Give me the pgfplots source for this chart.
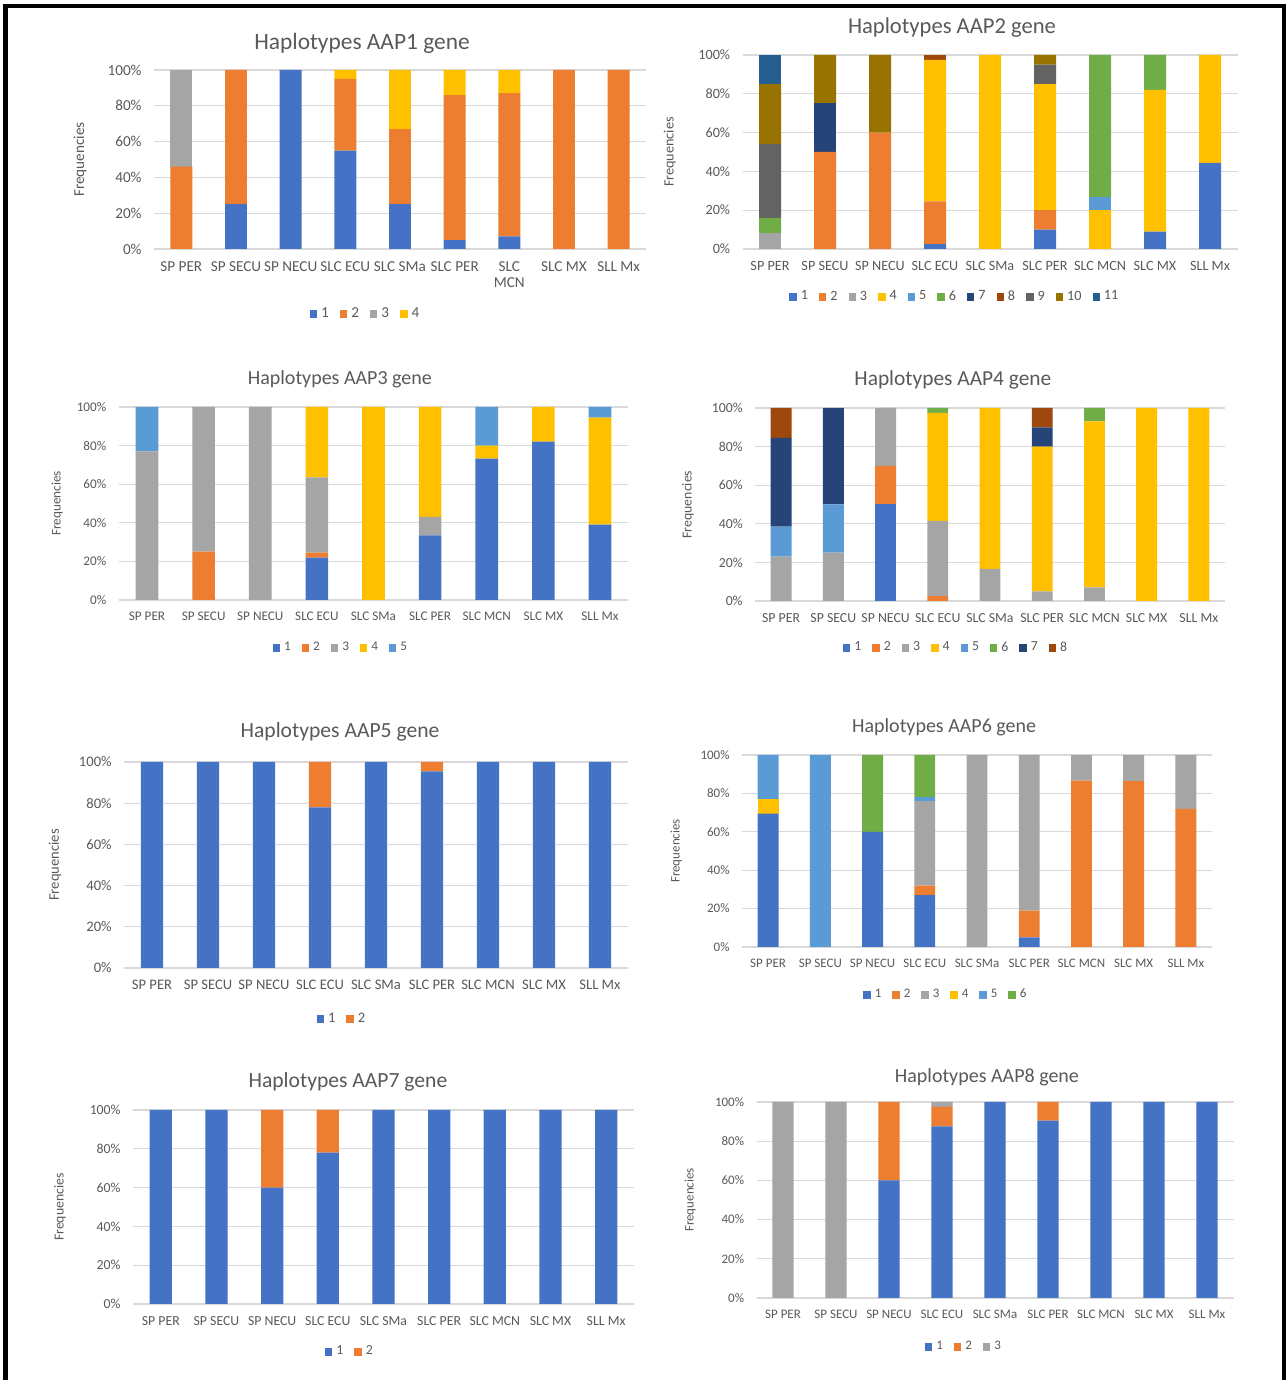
\documentclass[border=0pt]{standalone}
\usepackage{pgfplots}
\pgfplotsset{compat=1.18}
\usepackage{pgfplotstable}
\usepackage{fontspec}
\setmainfont{Carlito}

\definecolor{c1}{HTML}{4472C4}
\definecolor{c2}{HTML}{ED7D31}
\definecolor{c3}{HTML}{A5A5A5}
\definecolor{c4}{HTML}{FFC000}
\definecolor{c5}{HTML}{5B9BD5}
\definecolor{c6}{HTML}{70AD47}
\definecolor{c7}{HTML}{264478}
\definecolor{c8}{HTML}{9E480E}
\definecolor{c9}{HTML}{636363}
\definecolor{c10}{HTML}{997300}
\definecolor{c11}{HTML}{255E91}
\definecolor{txt}{HTML}{595959}
\definecolor{gridc}{HTML}{D9D9D9}

% haplotype frequencies (%) per population, one row per population
\pgfplotstableread{
cat h1 h2 h3 h4
0 0 46 54 0
1 25 75 0 0
2 100 0 0 0
3 55 40 0 5
4 25 42 0 33
5 5 81 0 14
6 7 80 0 13
7 0 100 0 0
8 0 100 0 0
}\tA
\pgfplotstableread{
cat h1 h2 h3 h4 h5 h6 h7 h8 h9 h10 h11
0 0 0 8 0 0 8 0 0 38 31 15
1 0 50 0 0 0 0 25 0 0 25 0
2 0 60 0 0 0 0 0 0 0 40 0
3 2.5 22 0 73 0 0 0 2.5 0 0 0
4 0 0 0 100 0 0 0 0 0 0 0
5 10 10 0 65 0 0 0 0 10 5 0
6 0 0 0 20 6.7 73.3 0 0 0 0 0
7 9 0 0 73 0 18 0 0 0 0 0
8 44.4 0 0 55.6 0 0 0 0 0 0 0
}\tB
\pgfplotstableread{
cat h1 h2 h3 h4 h5
0 0 0 77 0 23
1 0 25 75 0 0
2 0 0 100 0 0
3 22 2.5 39 36.5 0
4 0 0 0 100 0
5 33.5 0 9.5 57 0
6 73.3 0 0 6.7 20
7 82 0 0 18 0
8 39 0 0 55.5 5.5
}\tC
\pgfplotstableread{
cat h1 h2 h3 h4 h5 h6 h7 h8
0 0 0 23 0 15.5 0 46 15.5
1 0 0 25 0 25 0 50 0
2 50 20 30 0 0 0 0 0
3 0 2.5 39 56 0 2.5 0 0
4 0 0 16.7 83.3 0 0 0 0
5 0 0 5 75 0 0 10 10
6 0 0 7 86 0 7 0 0
7 0 0 0 100 0 0 0 0
8 0 0 0 100 0 0 0 0
}\tD
\pgfplotstableread{
cat h1 h2
0 100 0
1 100 0
2 100 0
3 78 22
4 100 0
5 95.5 4.5
6 100 0
7 100 0
8 100 0
}\tE
\pgfplotstableread{
cat h1 h2 h3 h4 h5 h6
0 69.5 0 0 7.5 23 0
1 0 0 0 0 100 0
2 60 0 0 0 0 40
3 27 5 44 0 2 22
4 0 0 100 0 0 0
5 5 14 81 0 0 0
6 0 86.7 13.3 0 0 0
7 0 86.4 13.6 0 0 0
8 0 72 28 0 0 0
}\tF
\pgfplotstableread{
cat h1 h2
0 100 0
1 100 0
2 60 40
3 78 22
4 100 0
5 100 0
6 100 0
7 100 0
8 100 0
}\tG
\pgfplotstableread{
cat h1 h2 h3
0 0 0 100
1 0 0 100
2 60 40 0
3 87.5 10 2.5
4 100 0 0
5 90.5 9.5 0
6 100 0 0
7 100 0 0
8 100 0 0
}\tH

\pgfplotsset{
  hap/.style={
    ybar stacked, scale only axis, enlargelimits=false,
    xmin=-0.5, xmax=8.5, ymin=0, ymax=100,
    bar width=0.4,
    xtick={0,...,8},
    xticklabels={SP PER,SP SECU,SP NECU,SLC ECU,SLC SMa,SLC PER,SLC MCN,SLC MX,SLL Mx},
    ytick={0,20,40,60,80,100},
    yticklabels={0\%,20\%,40\%,60\%,80\%,100\%},
    ymajorgrids, grid style={draw=gridc, line width=0.6pt},
    axis line style={draw=none}, major tick length=0pt,
    xticklabel style={anchor=north, inner sep=0pt, yshift=-6pt, align=center, text=txt},
    yticklabel style={anchor=east, inner sep=0pt, xshift=-6pt, text=txt},
    ylabel={Frequencies},
    every axis y label/.style={rotate=90, anchor=center, text=txt},
    every axis title/.style={anchor=center, text=txt},
    legend columns=-1,
    legend style={draw=none, fill=none, anchor=center, text=txt, inner sep=0pt,
      /tikz/every even column/.append style={column sep=3.5pt}},
    legend image code/.code={\fill[##1] (0pt,-1.85pt) rectangle (3.7pt,1.85pt);},
  },
  fs/.style n args={2}{
    tick label style={font=\fontsize{#1}{8}\selectfont},
    label style={font=\fontsize{#1}{8}\selectfont},
    legend style={font=\fontsize{#1}{8}\selectfont},
    title style={font=\fontsize{#2}{12}\selectfont},
  },
}

\begin{document}
\begin{tikzpicture}
\useasboundingbox (0pt,0pt) rectangle (643.5pt,690pt);
\draw[line width=2.25pt, miter limit=4] (2.75pt,0pt) -- (2.75pt,687pt) -- (642pt,687pt) -- (642pt,0pt);

% AAP1
\begin{axis}[hap, at={(77pt,565.5pt)}, width=246pt, height=89.5pt, fs={7.6}{11.7},
  xticklabels={SP PER,SP SECU,SP NECU,SLC ECU,SLC SMa,SLC PER,{SLC\\MCN},SLC MX,SLL Mx},
  title={Haplotypes AAP1 gene}, title style={at={(0.4228,1.151)}},
  ylabel style={at={(axis description cs:-0.150,0.5)}},
  legend style={at={(0.432,-0.363)}}]
\addplot[fill=c1,draw=none] table[x=cat,y=h1] {\tA};
\addplot[fill=c2,draw=none] table[x=cat,y=h2] {\tA};
\addplot[fill=c3,draw=none] table[x=cat,y=h3] {\tA};
\addplot[fill=c4,draw=none] table[x=cat,y=h4] {\tA};
\legend{1,2,3,4}
\end{axis}

% AAP2
\begin{axis}[hap, at={(371.25pt,565.5pt)}, width=247.5pt, height=97pt, fs={7.1}{11.3},
  title={Haplotypes AAP2 gene}, title style={at={(0.4232,1.14)}},
  ylabel style={at={(axis description cs:-0.1465,0.5)}},
  legend style={at={(0.431,-0.247)}}]
\addplot[fill=c1,draw=none] table[x=cat,y=h1] {\tB};
\addplot[fill=c2,draw=none] table[x=cat,y=h2] {\tB};
\addplot[fill=c3,draw=none] table[x=cat,y=h3] {\tB};
\addplot[fill=c4,draw=none] table[x=cat,y=h4] {\tB};
\addplot[fill=c5,draw=none] table[x=cat,y=h5] {\tB};
\addplot[fill=c6,draw=none] table[x=cat,y=h6] {\tB};
\addplot[fill=c7,draw=none] table[x=cat,y=h7] {\tB};
\addplot[fill=c8,draw=none] table[x=cat,y=h8] {\tB};
\addplot[fill=c9,draw=none] table[x=cat,y=h9] {\tB};
\addplot[fill=c10,draw=none] table[x=cat,y=h10] {\tB};
\addplot[fill=c11,draw=none] table[x=cat,y=h11] {\tB};
\legend{1,2,3,4,5,6,7,8,9,10,11}
\end{axis}

% AAP3
\begin{axis}[hap, at={(59.35pt,390pt)}, width=254.8pt, height=96.5pt, fs={6.6}{10},
  title={Haplotypes AAP3 gene}, title style={at={(0.434,1.145)}},
  ylabel style={at={(axis description cs:-0.121,0.5)}},
  legend style={at={(0.438,-0.248)}}]
\addplot[fill=c1,draw=none] table[x=cat,y=h1] {\tC};
\addplot[fill=c2,draw=none] table[x=cat,y=h2] {\tC};
\addplot[fill=c3,draw=none] table[x=cat,y=h3] {\tC};
\addplot[fill=c4,draw=none] table[x=cat,y=h4] {\tC};
\addplot[fill=c5,draw=none] table[x=cat,y=h5] {\tC};
\legend{1,2,3,4,5}
\end{axis}

% AAP4
\begin{axis}[hap, at={(377.5pt,389.5pt)}, width=235pt, height=96.5pt, fs={6.9}{10.7},
  title={Haplotypes AAP4 gene}, title style={at={(0.421,1.145)}},
  ylabel style={at={(axis description cs:-0.1426,0.5)}},
  legend style={at={(0.43,-0.243)}}]
\addplot[fill=c1,draw=none] table[x=cat,y=h1] {\tD};
\addplot[fill=c2,draw=none] table[x=cat,y=h2] {\tD};
\addplot[fill=c3,draw=none] table[x=cat,y=h3] {\tD};
\addplot[fill=c4,draw=none] table[x=cat,y=h4] {\tD};
\addplot[fill=c5,draw=none] table[x=cat,y=h5] {\tD};
\addplot[fill=c6,draw=none] table[x=cat,y=h6] {\tD};
\addplot[fill=c7,draw=none] table[x=cat,y=h7] {\tD};
\addplot[fill=c8,draw=none] table[x=cat,y=h8] {\tD};
\legend{1,2,3,4,5,6,7,8}
\end{axis}

% AAP5
\begin{axis}[hap, at={(62pt,206pt)}, width=252pt, height=103pt, fs={7.3}{10.8},
  title={Haplotypes AAP5 gene}, title style={at={(0.4286,1.145)}},
  ylabel style={at={(axis description cs:-0.137,0.5)}},
  legend style={at={(0.4345,-0.248)}}]
\addplot[fill=c1,draw=none] table[x=cat,y=h1] {\tE};
\addplot[fill=c2,draw=none] table[x=cat,y=h2] {\tE};
\legend{1,2}
\end{axis}

% AAP6
\begin{axis}[hap, at={(371pt,216.5pt)}, width=235pt, height=96pt, fs={6.5}{10},
  title={Haplotypes AAP6 gene}, title style={at={(0.43,1.146)}},
  ylabel style={at={(axis description cs:-0.140,0.5)}},
  legend style={at={(0.436,-0.250)}}]
\addplot[fill=c1,draw=none] table[x=cat,y=h1] {\tF};
\addplot[fill=c2,draw=none] table[x=cat,y=h2] {\tF};
\addplot[fill=c3,draw=none] table[x=cat,y=h3] {\tF};
\addplot[fill=c4,draw=none] table[x=cat,y=h4] {\tF};
\addplot[fill=c5,draw=none] table[x=cat,y=h5] {\tF};
\addplot[fill=c6,draw=none] table[x=cat,y=h6] {\tF};
\legend{1,2,3,4,5,6}
\end{axis}

% AAP7
\begin{axis}[hap, at={(66.5pt,38pt)}, width=250.5pt, height=97pt, fs={6.9}{10.8},
  title={Haplotypes AAP7 gene}, title style={at={(0.429,1.145)}},
  ylabel style={at={(axis description cs:-0.1457,0.5)}},
  legend style={at={(0.435,-0.247)}}]
\addplot[fill=c1,draw=none] table[x=cat,y=h1] {\tG};
\addplot[fill=c2,draw=none] table[x=cat,y=h2] {\tG};
\legend{1,2}
\end{axis}

% AAP8
\begin{axis}[hap, at={(378.25pt,41pt)}, width=238.5pt, height=98pt, fs={6.5}{10},
  title={Haplotypes AAP8 gene}, title style={at={(0.483,1.128)}},
  ylabel style={at={(axis description cs:-0.139,0.5)}},
  legend style={at={(0.437,-0.250)}}]
\addplot[fill=c1,draw=none] table[x=cat,y=h1] {\tH};
\addplot[fill=c2,draw=none] table[x=cat,y=h2] {\tH};
\addplot[fill=c3,draw=none] table[x=cat,y=h3] {\tH};
\legend{1,2,3}
\end{axis}
\end{tikzpicture}
\end{document}
